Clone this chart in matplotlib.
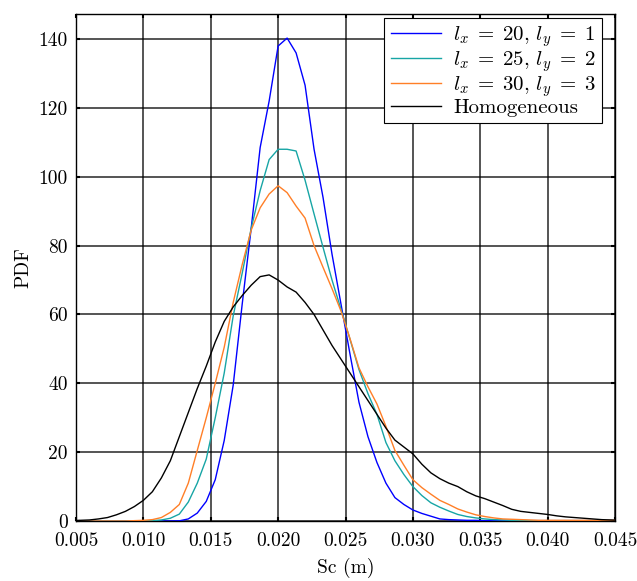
import matplotlib
matplotlib.use("Agg")
import matplotlib.pyplot as plt
import numpy as np

# x positions (m)
sc = [k / 1500 for k in range(7, 69)]

# PDF values, k = 7 .. 68
pdf_l20 = [0, 0, 0, 0, 0, 0, 0, 0, 0, 0, 0, 0, 0.05, 0.6, 2.3, 5.7, 12.0, 23.4, 39.5, 63.0, 85.0,
           108.5, 122.0, 138.0, 140.3, 136.0, 126.6, 108.0, 94.0, 77.5, 63.0, 48.5, 34.5, 24.5, 17.0,
           11.0, 6.8, 4.8, 3.2, 2.2, 1.4, 0.6, 0.4, 0.3, 0.2, 0.2, 0.1, 0.1, 0.1, 0.1, 0.1, 0.1,
           0.1, 0.1, 0.1, 0.1, 0.1, 0.1, 0.1, 0.1, 0.1, 0.1]
pdf_l25 = [0, 0, 0, 0, 0, 0, 0, 0, 0.05, 0.1, 0.3, 0.8, 2.0, 5.5, 11.0, 18.0, 30.0, 43.0, 59.6, 72.0, 85.0,
           96.0, 105.0, 108.0, 108.0, 107.5, 99.0, 89.2, 79.5, 70.0, 61.5, 52.8, 44.0, 37.0, 31.0,
           22.8, 17.5, 13.5, 10.0, 7.4, 5.3, 4.0, 2.9, 1.9, 1.3, 0.9, 0.6, 0.4, 0.3, 0.2, 0.2, 0.1,
           0.1, 0.1, 0.1, 0.1, 0.1, 0.1, 0.1, 0.1, 0.1, 0.1]
pdf_l30 = [0, 0, 0, 0, 0, 0, 0, 0.1, 0.2, 0.4, 1.0, 2.5, 4.8, 11.0, 20.5, 30.0, 40.0, 50.5, 63.5, 74.5, 84.5,
           91.0, 95.0, 97.4, 95.4, 91.5, 88.0, 80.0, 73.7, 67.5, 61.0, 53.0, 44.5, 39.0, 34.0,
           27.5, 20.5, 16.2, 12.0, 9.7, 7.8, 6.0, 4.8, 3.5, 2.6, 1.8, 1.3, 0.9, 0.6, 0.5, 0.4, 0.3,
           0.2, 0.2, 0.2, 0.2, 0.2, 0.2, 0.2, 0.2, 0.2, 0.2]
pdf_homo = [0.1, 0.2, 0.3, 0.6, 1.0, 1.8, 2.8, 4.2, 6.0, 8.5, 12.5, 17.5, 24.5, 31.5, 38.5, 45.0, 52.0, 58.0,
            62.2, 65.5, 68.5, 71.0, 71.5, 70.0, 68.0, 66.5, 63.5, 60.0, 55.5, 51.0, 47.0, 43.0, 39.0,
            35.0, 31.0, 27.0, 23.5, 21.5, 19.5, 16.5, 14.0, 12.3, 11.0, 10.0, 8.5, 7.3, 6.5, 5.5, 4.5,
            3.4, 2.8, 2.5, 2.2, 1.9, 1.5, 1.2, 1.0, 0.8, 0.6, 0.4, 0.3, 0.2]

labels = [r"$l_x\;=\;20,\,l_y\;=\;1$", r"$l_x\;=\;25,\,l_y\;=\;2$",
          r"$l_x\;=\;30,\,l_y\;=\;3$", "Homogeneous"]
colors = ["#0000ff", "#17a5a5", "#ff7f27", "#000000"]
xticks = [0.005, 0.010, 0.015, 0.020, 0.025, 0.030, 0.035, 0.040, 0.045]
yticks = [0, 20, 40, 60, 80, 100, 120, 140]

plt.rcParams["font.family"] = ["cmr10", "DejaVu Serif"]
plt.rcParams["mathtext.fontset"] = "cm"
plt.rcParams["axes.formatter.use_mathtext"] = True

fig = plt.figure(figsize=(6.37, 5.81), dpi=100)
ax = fig.add_axes([76 / 637, 60 / 581, 539 / 637, 507 / 581])

for y, lab, c in zip([pdf_l20, pdf_l25, pdf_l30, pdf_homo], labels, colors):
    ax.plot(sc, y, color=c, lw=1.0, label=lab, zorder=3)

ax.set_xlim(0.005, 0.045)
ax.set_ylim(0, 147.3)
ax.set_xticks(xticks)
ax.set_xticklabels([f"{v:.3f}" for v in xticks])
ax.set_yticks(yticks)
ax.set_yticklabels([str(v) for v in yticks])
ax.grid(True, color="black", lw=1.1, alpha=0.85)
ax.set_axisbelow(True)
for s in ax.spines.values():
    s.set_color("black")
    s.set_linewidth(1.0)
ax.tick_params(direction="in", length=3, width=1.5, top=True, right=True, labelsize=14)
ax.tick_params(axis="x", pad=8)
ax.tick_params(axis="y", pad=6)

ax.set_xlabel("Sc (m)", fontsize=14, labelpad=6)
ax.set_ylabel("PDF", fontsize=14, labelpad=4)

leg = ax.legend(loc="upper right", bbox_to_anchor=(0.976, 0.992), fontsize=15, frameon=True,
                fancybox=False, edgecolor="black", framealpha=1, handlelength=2.4,
                borderpad=0.3, labelspacing=0.0, handletextpad=0.6, borderaxespad=0)
leg.get_frame().set_linewidth(0.8)

fig.savefig("out.png", dpi=100)
